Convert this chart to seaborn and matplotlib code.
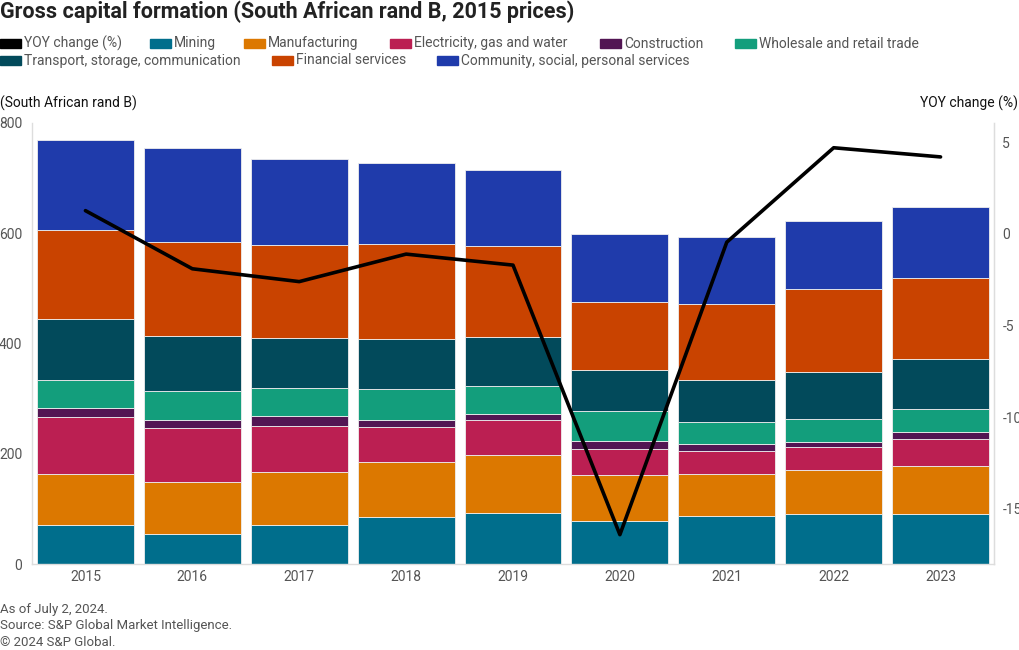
import numpy as np
import pandas as pd
import seaborn as sns
import matplotlib.pyplot as plt
from matplotlib.patches import Rectangle

# Data (South African rand B, 2015 prices)
years = [2015, 2016, 2017, 2018, 2019, 2020, 2021, 2022, 2023]
mining = [70, 55, 70, 85, 92, 78, 87, 90, 90]
manufacturing = [94, 94, 96, 100, 105, 84, 76, 81, 88]
electricity = [103, 98, 85, 64, 65, 47, 42, 41, 49]
construction = [16, 14, 17, 13, 11, 15, 13, 10, 12]
wholesale = [50, 52, 52, 56, 50, 54, 40, 41, 43]
transport = [112, 101, 90, 91, 88, 74, 76, 85, 90]
financial = [160, 171, 169, 171, 166, 123, 138, 150, 146]
community = [164, 169, 156, 147, 137, 123, 122, 124, 130]
yoy = [1.27, -1.9, -2.6, -1.1, -1.7, -16.4, -0.45, 4.7, 4.2]

sectors = ['Mining', 'Manufacturing', 'Electricity, gas and water', 'Construction',
           'Wholesale and retail trade', 'Transport, storage, communication',
           'Financial services', 'Community, social, personal services']
series = [mining, manufacturing, electricity, construction, wholesale,
          transport, financial, community]
colors = ['#006e8c', '#dc7800', '#bb1f52', '#521553', '#139e7c', '#024a5b',
          '#c94300', '#1f3bab']

rows = []
for name, vals in zip(sectors, series):
    for y, v in zip(years, vals):
        rows.append({'year': y, 'sector': name, 'value': v})
df = pd.DataFrame(rows)

sns.set_style('white')
plt.rcParams['font.family'] = ['Roboto', 'DejaVu Sans']
plt.rcParams['axes.unicode_minus'] = False

grey = '#555555'
spine_c = '#dddddd'

fig = plt.figure(figsize=(10.2, 6.5), dpi=100)
ax = fig.add_axes([32 / 1020, 1 - 564 / 650, (994 - 32) / 1020, (564 - 123) / 650])

# seaborn stacks the last hue level at the bottom, so reverse the order
sns.histplot(data=df, x='year', weights='value', hue='sector',
             hue_order=sectors[::-1], palette=dict(zip(sectors, colors)),
             multiple='stack', discrete=True, shrink=0.907, alpha=1,
             edgecolor='#eeeeee', linewidth=0.6, legend=False, ax=ax)

ax.set_xlim(years[0] - 0.5, years[-1] + 0.5)
ax.set_ylim(0, 800)
ax.set_yticks([0, 200, 400, 600, 800])
ax.set_xticks(years)
ax.set_xticklabels([str(y) for y in years])
ax.set_xlabel('')
ax.set_ylabel('')
ax.tick_params(axis='both', length=0, labelsize=10, colors=grey)
ax.tick_params(axis='y', pad=7)
ax.tick_params(axis='x', pad=4)
ax.spines['top'].set_visible(False)
for s in ['left', 'right', 'bottom']:
    ax.spines[s].set_color(spine_c)
    ax.spines[s].set_linewidth(1)

ax2 = ax.twinx()
sns.lineplot(x=years, y=yoy, color='black', linewidth=2.6, ax=ax2)
ax2.set_ylim(-18, 6.05)
ax2.set_yticks([5, 0, -5, -10, -15])
ax2.tick_params(axis='y', length=0, labelsize=10, colors=grey, pad=6)
ax2.set_ylabel('')
for s in ['top', 'left', 'bottom']:
    ax2.spines[s].set_visible(False)
ax2.spines['right'].set_color(spine_c)

# Title and axis captions
fig.text(0 / 1020, 1 - 12 / 650, 'Gross capital formation (South African rand B, 2015 prices)',
         fontsize=15.5, fontweight='bold', color='#222222', va='center', ha='left')
fig.text(0, 1 - 103 / 650, '(South African rand B)', fontsize=10, color='#111111',
         va='center', ha='left')
fig.text(1018 / 1020, 1 - 103 / 650, 'YOY change (%)', fontsize=10, color='#111111',
         va='center', ha='right')

# Legend laid out in two flowing rows like the original
legend_items = [
    ('YOY change (%)', 'black', 0, 43.5),
    ('Mining', colors[0], 150, 43.5),
    ('Manufacturing', colors[1], 244, 43.5),
    ('Electricity, gas and water', colors[2], 390, 43.5),
    ('Construction', colors[3], 600, 43.5),
    ('Wholesale and retail trade', colors[4], 735, 43.5),
    ('Transport, storage, communication', colors[5], 0, 60.5),
    ('Financial services', colors[6], 272, 60.5),
    ('Community, social, personal services', colors[7], 437, 60.5),
]
for label, c, px, py in legend_items:
    fig.patches.append(Rectangle((px / 1020, 1 - (py + 4.5) / 650), 21 / 1020, 9 / 650,
                                 transform=fig.transFigure, color=c, zorder=5))
    fig.text((px + 24) / 1020, 1 - py / 650, label, fontsize=10, color=grey,
             va='center', ha='left')

# Footer
for i, line in enumerate(['As of July 2, 2024.', 'Source: S&P Global Market Intelligence.',
                          '\u00a9 2024 S&P Global.']):
    fig.text(0, 1 - (610 + 16 * i) / 650, line, fontsize=9.5, color=grey,
             va='center', ha='left')

fig.savefig('out.png', dpi=100)
